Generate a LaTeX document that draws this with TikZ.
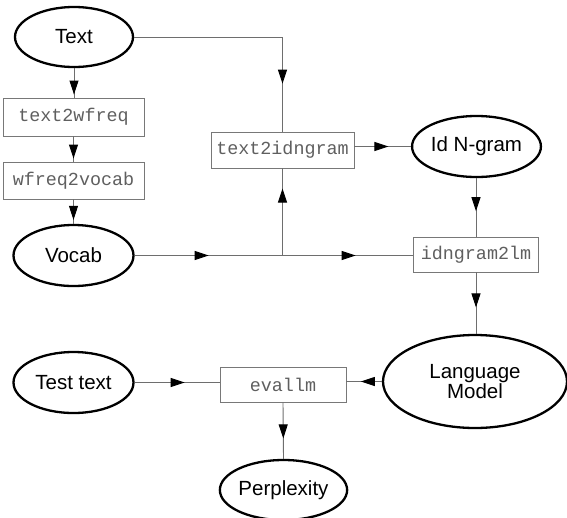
\documentclass[tikz,border=0pt]{standalone}
\usepackage{fontspec}
\setmainfont{Liberation Sans}
\newfontfamily\monofont{Liberation Mono}
\usetikzlibrary{shapes.geometric,arrows.meta,decorations.markings,calc}
\definecolor{linegray}{RGB}{110,110,110}
\definecolor{boxgray}{RGB}{120,120,120}
\definecolor{monogray}{RGB}{95,95,95}
\tikzset{
  tipA/.tip={Triangle[length=14pt,width=9pt,color=black]},
  oval/.style={ellipse,draw=black,line width=2.3pt,inner sep=0pt,
    font=\fontsize{20.5}{20}\selectfont,align=center},
  prog/.style={rectangle,draw=boxgray,line width=0.9pt,inner sep=0pt,
    text=monogray,font=\monofont\fontsize{18.4}{19}\selectfont},
  conn/.style={draw=linegray,line width=0.9pt},
  arrowat/.style={postaction={decorate},decoration={markings,
    mark=at position #1 with {\arrow{tipA}}}},
  arrowtwo/.style n args={2}{postaction={decorate},decoration={markings,
    mark=at position #1 with {\arrow{tipA}},
    mark=at position #2 with {\arrow{tipA}}}}
}
\begin{document}
\begin{tikzpicture}[x=1pt,y=-1pt]
\useasboundingbox (0,0) rectangle (567,517);
% ovals
\node[oval,minimum width=118pt,minimum height=60pt] (text) at (74,37) {Text};
\node[oval,minimum width=120pt,minimum height=61pt] (vocab) at (73.5,255.5) {Vocab};
\node[oval,minimum width=120pt,minimum height=61pt] (test) at (73.5,382.5) {Test text};
\node[oval,minimum width=120pt,minimum height=61pt] (idn) at (476.5,146.5) {Id N-gram};
\node[oval,minimum width=184pt,minimum height=93pt] (lm) at (475,381.5) {Language\\Model};
\node[oval,minimum width=118pt,minimum height=60pt] (perp) at (283.5,490) {Perplexity};
% program boxes
\node[prog,minimum width=141pt,minimum height=38pt] (t2w) at (73.5,117) {text2wfreq};
\node[prog,minimum width=141pt,minimum height=37pt] (w2v) at (73.5,180.5) {wfreq2vocab};
\node[prog,minimum width=143pt,minimum height=36pt] (t2i) at (282.5,150) {text2idngram};
\node[prog,minimum width=125pt,minimum height=35pt] (i2l) at (476,254.5) {idngram2lm};
\node[prog,minimum width=126pt,minimum height=35pt] (eval) at (283,384.5) {evallm};
% connectors
\draw[conn,arrowat=-3pt] (text.south) -- (text.south |- t2w.north);
\draw[conn,arrowat=-3pt] (t2w.south) -- (w2v.north);
\draw[conn,arrowat=-4pt] (w2v.south) -- (vocab.north);
\draw[conn,arrowat=195pt] (text.east) -| (t2i.north);
\coordinate (vend) at (vocab.east -| i2l.west);
\draw[conn,arrowtwo={74pt}{221pt}] (vocab.east) -- (vend);
\coordinate (junc) at (vocab.east -| t2i.south);
\draw[conn,arrowat=67pt] (junc) -- (t2i.south);
\draw[conn,arrowat=34pt] (t2i.east |- idn.west) -- (idn.west);
\draw[conn,arrowat=33pt] (idn.south -| i2l.north) -- (i2l.north);
\draw[conn,arrowat=35pt] (i2l.south) -- (lm.north -| i2l.south);
\draw[conn,arrowat=21pt] (lm.west) -- (lm.west -| eval.east);
\draw[conn,arrowat=50pt] (test.east) -- (test.east -| eval.west);
\draw[conn,arrowat=36pt] (eval.south) -- (perp.north);
\end{tikzpicture}
\end{document}
